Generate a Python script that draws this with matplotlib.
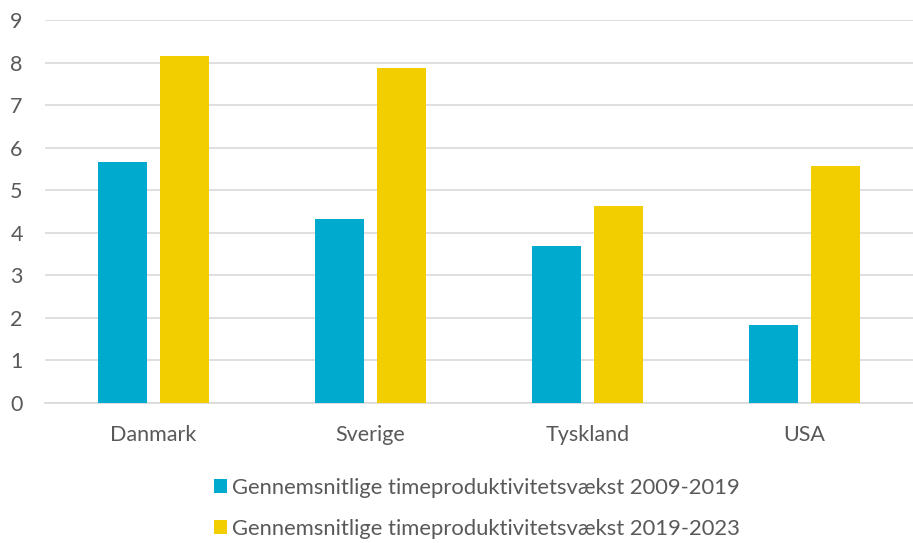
import numpy as np
import matplotlib.pyplot as plt

plt.rcParams['font.family'] = ['Lato', 'DejaVu Sans']

lande = ['Danmark', 'Sverige', 'Tyskland', 'USA']
vaekst_2009_2019 = [5.66, 4.32, 3.68, 1.83]
vaekst_2019_2023 = [8.15, 7.87, 4.63, 5.58]
serie_navne = ['Gennemsnitlige timeproduktivitetsvækst 2009-2019',
               'Gennemsnitlige timeproduktivitetsvækst 2019-2023']

blaa = '#00AACE'
gul = '#F2CE00'
tekst = '#595959'

fig = plt.figure(figsize=(9.13, 5.43), dpi=100)
ax = fig.add_axes([45 / 913, 1 - 403 / 543, 868 / 913, 383 / 543])

x = np.arange(len(lande))
b = 0.225
gap = 0.06
ax.bar(x - (b + gap) / 2, vaekst_2009_2019, b, color=blaa, label=serie_navne[0], zorder=3)
ax.bar(x + (b + gap) / 2, vaekst_2019_2023, b, color=gul, label=serie_navne[1], zorder=3)

ax.set_xlim(-0.5, len(lande) - 0.5)
ax.set_ylim(0, 9)
ax.set_yticks(range(0, 10))
ax.yaxis.grid(True, color='#D9D9D9', linewidth=1.2, zorder=0)
ax.set_xticks(x)
ax.set_xticklabels(lande)
ax.tick_params(axis='both', length=0, labelsize=15.5, colors=tekst)
ax.tick_params(axis='x', pad=16)
ax.tick_params(axis='y', pad=25)
for lbl in ax.get_yticklabels():
    lbl.set_horizontalalignment('left')
for s in ['top', 'right', 'left']:
    ax.spines[s].set_visible(False)
ax.spines['bottom'].set_color('#D9D9D9')
ax.spines['bottom'].set_linewidth(1.2)

leg = fig.legend(loc='upper center', ncol=1, frameon=False, fontsize=15.8,
                 labelcolor=tekst, handlelength=0.6, handleheight=0.6,
                 handletextpad=0.2, labelspacing=0.95, borderaxespad=0, borderpad=0)
leg.set_bbox_to_anchor((477 / 913, 1 - 478 / 543), transform=fig.transFigure)

fig.savefig('out.png', dpi=100)
